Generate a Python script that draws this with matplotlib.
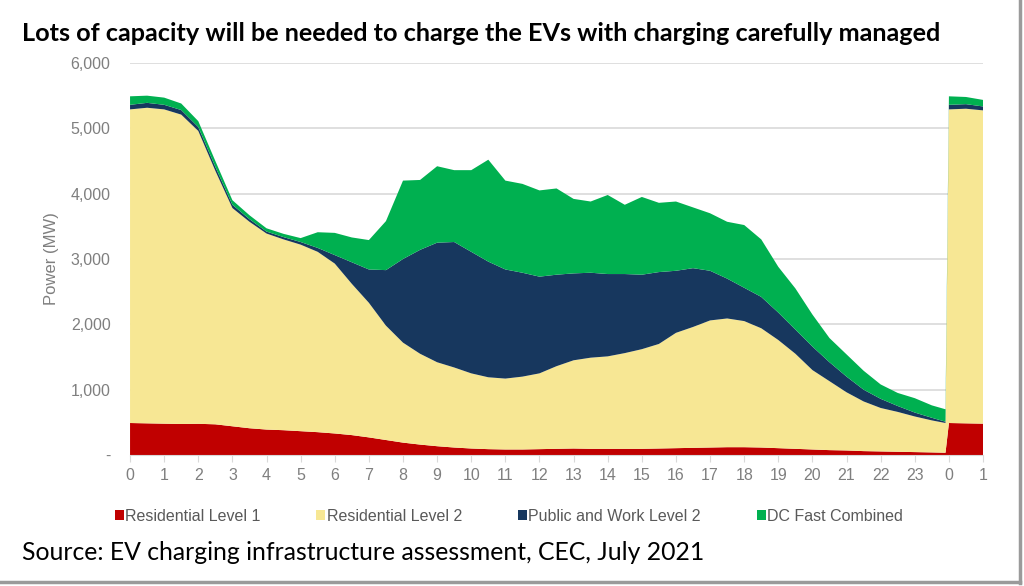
import numpy as np
import matplotlib
matplotlib.use('Agg')
import matplotlib.pyplot as plt
from matplotlib.lines import Line2D
from matplotlib.patches import Patch

# half-hour steps over the day, then the first hour of the next day
hours = [0.0, 0.5, 1.0, 1.5, 2.0, 2.5, 3.0, 3.5, 4.0, 4.5, 5.0, 5.5,
         6.0, 6.5, 7.0, 7.5, 8.0, 8.5, 9.0, 9.5, 10.0, 10.5, 11.0, 11.5,
         12.0, 12.5, 13.0, 13.5, 14.0, 14.5, 15.0, 15.5, 16.0, 16.5, 17.0, 17.5,
         18.0, 18.5, 19.0, 19.5, 20.0, 20.5, 21.0, 21.5, 22.0, 22.5, 23.0, 23.5,
         23.9, 24.0, 24.5, 25.0]

res_l1 = [490, 485, 480, 475, 478, 470, 440, 410, 390, 380, 365, 350,
          330, 305, 270, 230, 190, 160, 135, 115, 100, 90, 85, 85,
          90, 95, 100, 95, 95, 95, 95, 100, 105, 110, 115, 120,
          120, 115, 105, 95, 85, 75, 70, 60, 55, 50, 45, 40,
          35, 490, 485, 480]

res_l2 = [4800, 4830, 4810, 4735, 4482, 3880, 3340, 3160, 3000, 2920, 2855, 2760,
          2600, 2315, 2060, 1750, 1530, 1390, 1285, 1225, 1150, 1100, 1085, 1115,
          1160, 1265, 1350, 1395, 1415, 1465, 1525, 1600, 1765, 1850, 1945, 1970,
          1930, 1825, 1655, 1455, 1215, 1055, 890, 760, 665, 610, 545, 490,
          455, 4800, 4815, 4795]

public_work_l2 = [70, 75, 70, 70, 60, 60, 50, 40, 30, 35, 40, 60,
                  130, 330, 510, 850, 1280, 1590, 1830, 1920, 1860, 1770, 1670, 1590,
                  1480, 1400, 1330, 1300, 1260, 1210, 1140, 1100, 950, 900, 760, 610,
                  510, 480, 420, 370, 360, 290, 240, 180, 140, 90, 60, 40,
                  20, 70, 70, 60]

dc_fast = [130, 110, 110, 100, 90, 90, 70, 60, 50, 50, 60, 240,
           340, 380, 450, 750, 1200, 1070, 1170, 1100, 1250, 1560, 1360, 1360,
           1320, 1320, 1140, 1090, 1210, 1060, 1190, 1060, 1060, 930, 880, 870,
           960, 880, 700, 630, 490, 370, 340, 290, 220, 200, 220, 190,
           190, 130, 110, 100]

series_names = ['Residential Level 1', 'Residential Level 2',
                'Public and Work Level 2', 'DC Fast Combined']
series_colors = ['#c00000', '#f7e794', '#17375e', '#00b050']

tick_pos = list(range(26))
tick_labels = [str(h) for h in range(24)] + ['0', '1']

fig = plt.figure(figsize=(10.24, 5.86), dpi=100)
ax = fig.add_axes([0.127, 0.2235, 0.833, 0.669])

ax.stackplot(hours, res_l1, res_l2, public_work_l2, dc_fast,
             colors=series_colors, linewidth=0, zorder=2)

ax.set_xlim(0, 25)
ax.set_ylim(0, 6000)
ax.set_yticks([0, 1000, 2000, 3000, 4000, 5000, 6000])
ax.set_yticklabels(['-', '1,000', '2,000', '3,000', '4,000', '5,000', '6,000'])
ax.set_xticks(tick_pos)
ax.set_xticklabels(tick_labels)

grey = '#7f7f7f'
ax.grid(axis='y', color='#d9d9d9', linewidth=1.2, zorder=0)
ax.set_axisbelow(True)
for s in ['top', 'right', 'left']:
    ax.spines[s].set_visible(False)
ax.spines['bottom'].set_color('#d9d9d9')
ax.tick_params(axis='y', length=0, colors=grey, labelsize=11.5, pad=14)
ax.tick_params(axis='x', length=5, color='#d9d9d9', colors=grey, labelsize=11.5, pad=4)
for lab in ax.get_xticklabels() + ax.get_yticklabels():
    lab.set_family('Liberation Sans')
ax.set_ylabel('Power (MW)', color=grey, fontsize=12, family='Liberation Sans', labelpad=8)

# legend below the plot
handles = [Patch(facecolor=c, edgecolor='none') for c in series_colors]
fig.legend(handles, series_names, loc='center', bbox_to_anchor=(0.497, 0.119),
           ncol=4, frameon=False, handlelength=0.55, handleheight=0.55,
           handletextpad=0.1, columnspacing=3.5,
           prop={'family': 'Liberation Sans', 'size': 11.5}, labelcolor='#595959')

fig.text(0.021, 0.943, 'Lots of capacity will be needed to charge the EVs with charging carefully managed',
         fontsize=18.2, fontweight='bold', family='Lato', color='black', va='center')
fig.text(0.021, 0.057, 'Source: EV charging infrastructure assessment, CEC, July 2021',
         fontsize=17.8, family='Lato', color='black', va='center')

# card border at right and bottom
fig.add_artist(Line2D([0.9965, 0.9965], [0.005, 1.0], transform=fig.transFigure,
                      color='#9a9a9a', linewidth=2.5))
fig.add_artist(Line2D([0.0, 0.9965], [0.0075, 0.0075], transform=fig.transFigure,
                      color='#9a9a9a', linewidth=2.5))

fig.savefig('out.png', dpi=100)
plt.close(fig)
